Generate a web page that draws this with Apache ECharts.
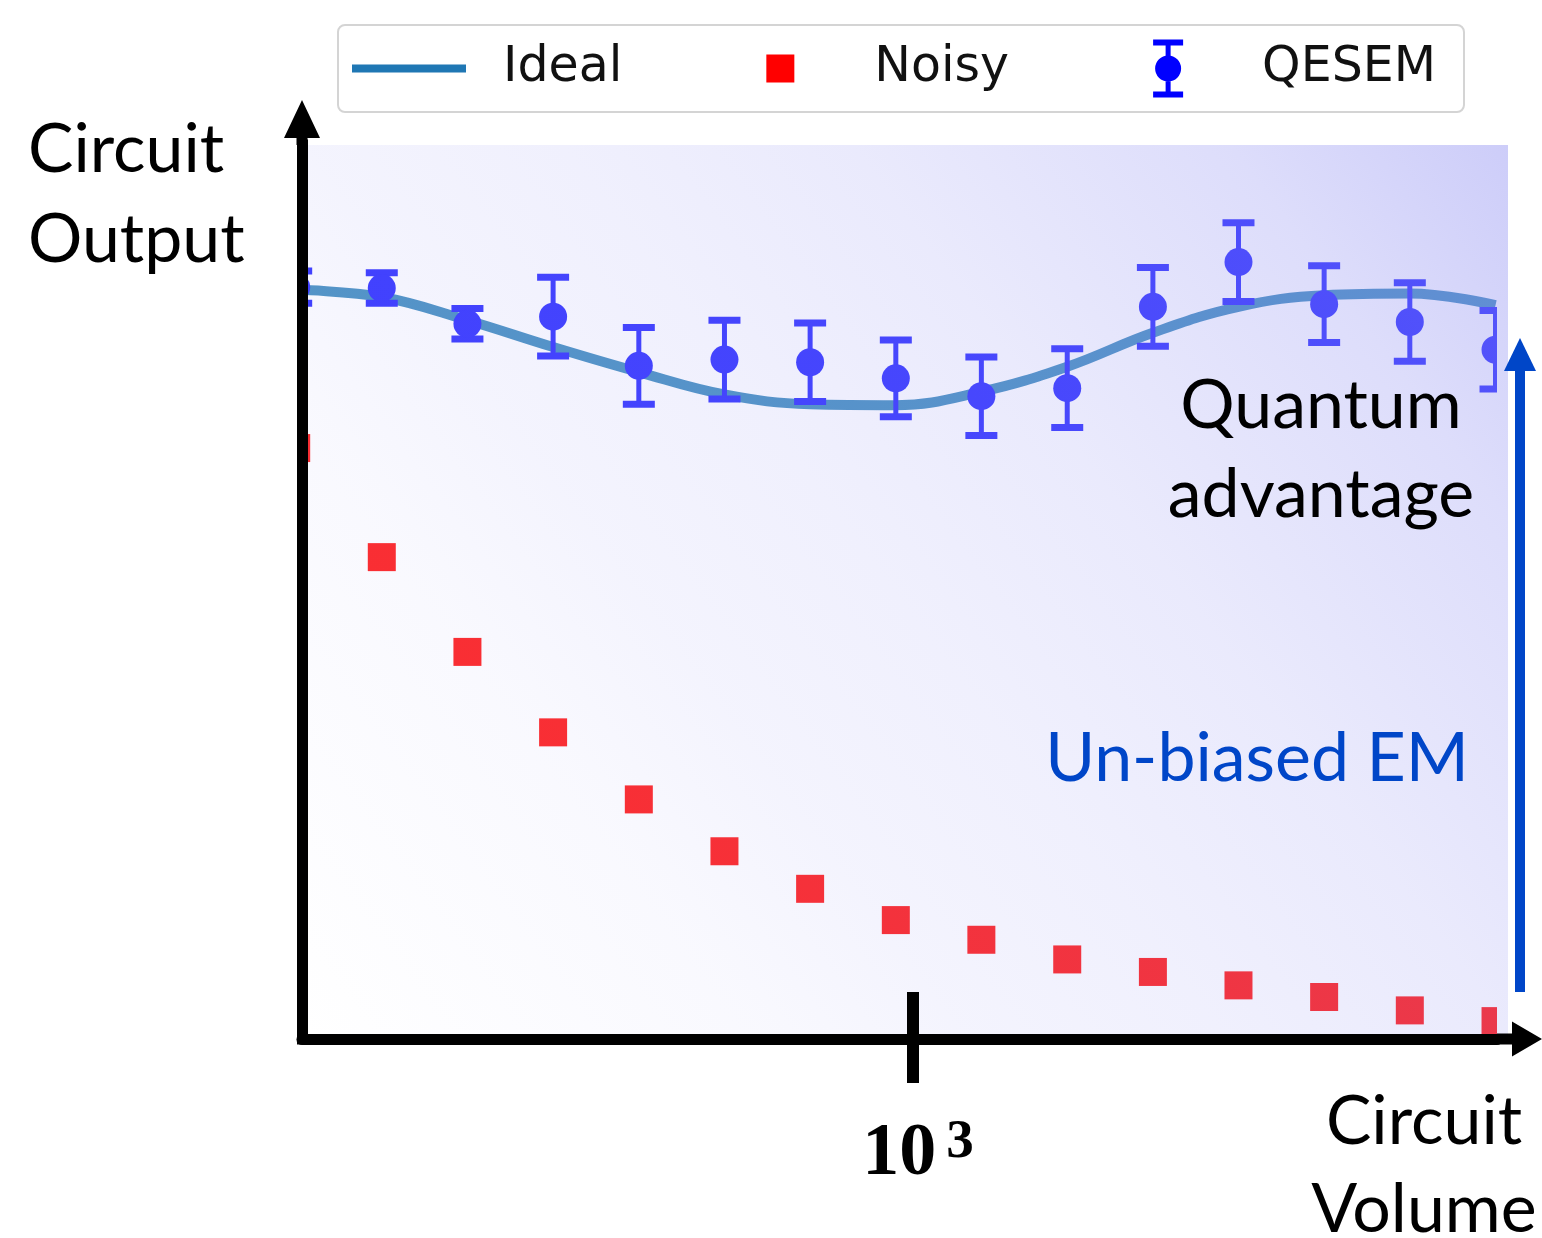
<!DOCTYPE html>
<html>
<head>
<meta charset="utf-8">
<script src="https://cdn.jsdelivr.net/npm/echarts@6/dist/echarts.min.js"></script>
<style>
  html, body { margin: 0; padding: 0; background: #fff; }
  #chart { width: 1542px; height: 1238px; }
</style>
</head>
<body>
<div id="chart"></div>
<script>
// circuit volume of each sample (log x axis)
const volumes = [190.6, 239.9, 302.0, 380.2, 478.7, 602.6, 758.6, 955.1, 1202, 1514, 1906, 2399, 3020, 3802, 4787];
// circuit output
const idealOutput = [0.838, 0.830, 0.804, 0.774, 0.746, 0.721, 0.710, 0.709, 0.724, 0.752, 0.790, 0.819, 0.832, 0.834, 0.821];
const noisyOutput = [0.661, 0.539, 0.433, 0.343, 0.268, 0.210, 0.168, 0.133, 0.111, 0.089, 0.075, 0.060, 0.047, 0.032, 0.020];
const qesemOutput = [0.841, 0.840, 0.800, 0.808, 0.753, 0.760, 0.757, 0.739, 0.719, 0.728, 0.819, 0.869, 0.822, 0.802, 0.771];
const qesemError = [0.018, 0.017, 0.017, 0.044, 0.043, 0.044, 0.044, 0.043, 0.044, 0.044, 0.044, 0.044, 0.043, 0.044, 0.044];
const xTicks = [1000];

const myChart = echarts.init(document.getElementById('chart'));

const GRID = { left: 302, top: 145, right: 45, bottom: 199 };
const TEXT_FONT = 'Lato';

// legend icons (degenerate segments pad the box to the item height)
const lineIcon = 'path://M0,25H114V33H0Z M57,0L57,0.01 M57,58L57,57.99';
const squareIcon = 'path://M0,15H28V43H0Z M14,0L14,0.01 M14,58L14,57.99';
const errIcon = 'path://M0,0H30V6H0Z M12.5,6H17.5V52H12.5Z M0,52H30V58H0Z M2,29A13,13,0,1,1,28,29A13,13,0,1,1,2,29Z';
// axis arrows with a short stem so they join the thick axis line
const xArrow = 'path://M17.5,0L35,30L23,30L23,45L12,45L12,30L0,30Z';
const yArrow = 'path://M18,0L36,38L23.5,38L23.5,45L12.5,45L12.5,38L0,38Z';

const squareItem = (params, api) => {
  const c = api.coord([api.value(0), api.value(1)]);
  return {
    type: 'rect',
    shape: { x: c[0] - 14, y: c[1] - 14, width: 28, height: 28 },
    style: { fill: '#ff2a2a' }
  };
};

const errorBarItem = (params, api) => {
  const x = api.value(0), y = api.value(1), e = api.value(2);
  const c = api.coord([x, y]);
  const hi = api.coord([x, y + e]);
  const lo = api.coord([x, y - e]);
  const fill = '#3c3cff';
  return {
    type: 'group',
    children: [
      { type: 'rect', shape: { x: c[0] - 2.5, y: hi[1], width: 5, height: lo[1] - hi[1] }, style: { fill } },
      { type: 'rect', shape: { x: c[0] - 16, y: hi[1] - 3.5, width: 32, height: 7 }, style: { fill } },
      { type: 'rect', shape: { x: c[0] - 16, y: lo[1] - 3.5, width: 32, height: 7 }, style: { fill } },
      { type: 'circle', shape: { cx: c[0], cy: c[1], r: 14 }, style: { fill } }
    ]
  };
};

const baseX = {
  type: 'log',
  logBase: 10,
  min: 193.6,
  max: 4806,
  position: 'bottom',
  splitLine: { show: false },
  minorTick: { show: false },
  z: 20
};

const option = {
  animation: false,
  backgroundColor: '#fff',
  grid: { ...GRID, outerBoundsMode: 'none', containLabel: false },
  legend: {
    left: 338,
    top: 25,
    orient: 'horizontal',
    selectedMode: false,
    itemWidth: 114,
    itemHeight: 58,
    itemGap: 144,
    padding: [14.5, 28, 14.5, 14],
    backgroundColor: '#fff',
    borderColor: '#d4d4d4',
    borderWidth: 2,
    borderRadius: 7,
    textStyle: { fontFamily: 'DejaVu Sans', fontSize: 49, color: '#111', padding: [0, 0, 0, 32] },
    data: [
      { name: 'Ideal', icon: lineIcon, itemStyle: { color: '#1f77b4', opacity: 1 } },
      { name: 'Noisy', icon: squareIcon, itemStyle: { color: '#ff0000', opacity: 1 } },
      { name: 'QESEM', icon: errIcon, itemStyle: { color: '#0000ff', opacity: 1 } }
    ]
  },
  xAxis: [
    {
      ...baseX,
      axisLine: {
        show: true,
        onZero: false,
        symbol: ['none', xArrow],
        symbolSize: [35, 45],
        symbolOffset: [0, 22.5],
        lineStyle: { color: '#000', width: 11 }
      },
      axisTick: { show: false },
      axisLabel: {
        show: true,
        customValues: xTicks,
        margin: 76,
        formatter: () => '{b|10}{s|3}',
        rich: {
          b: { fontFamily: 'Liberation Serif', fontWeight: 'bold', fontSize: 74, lineHeight: 80, color: '#000', padding: [0, 0, 0, 10] },
          s: { fontFamily: 'Liberation Serif', fontWeight: 'bold', fontSize: 55, lineHeight: 44, color: '#000', verticalAlign: 'top', padding: [0, 0, 0, 10] }
        }
      }
    },
    {
      ...baseX,
      offset: -47,
      axisLine: { show: false, onZero: false },
      axisTick: {
        show: true,
        customValues: xTicks,
        inside: false,
        length: 91,
        lineStyle: { color: '#000', width: 12 }
      },
      axisLabel: { show: false }
    }
  ],
  yAxis: {
    type: 'value',
    min: 0,
    max: 1,
    z: 20,
    axisLine: {
      show: true,
      onZero: false,
      symbol: ['none', yArrow],
      symbolSize: [36, 45],
      symbolOffset: [0, 22.5],
      lineStyle: { color: '#000', width: 11, cap: 'square' }
    },
    axisTick: { show: false },
    axisLabel: { show: false },
    splitLine: { show: false }
  },
  series: [
    {
      name: 'Ideal',
      type: 'line',
      smooth: 0.4,
      symbol: 'none',
      clip: true,
      lineStyle: { color: '#1f77b4', width: 10, opacity: 0.78 },
      itemStyle: { color: '#1f77b4' },
      data: volumes.map((v, i) => [v, idealOutput[i]]),
      z: 2
    },
    {
      name: 'Noisy',
      type: 'custom',
      clip: true,
      itemStyle: { color: '#ff2a2a' },
      encode: { x: 0, y: 1 },
      renderItem: squareItem,
      data: volumes.map((v, i) => [v, noisyOutput[i]]),
      z: 3
    },
    {
      name: 'QESEM',
      type: 'custom',
      clip: true,
      itemStyle: { color: '#3c3cff' },
      encode: { x: 0, y: 1 },
      renderItem: errorBarItem,
      data: volumes.map((v, i) => [v, qesemOutput[i], qesemError[i]]),
      z: 4
    }
  ],
  graphic: [
    {
      // lavender shading over the plot region
      type: 'rect',
      x: GRID.left,
      y: GRID.top,
      z: 10,
      silent: true,
      shape: { x: 0, y: 0, width: 1206, height: 894 },
      style: {
        fill: {
          type: 'linear', x: 0, y: 1, x2: 1, y2: 0,
          colorStops: [
            { offset: 0, color: 'rgba(130,130,240,0)' },
            { offset: 0.25, color: 'rgba(130,130,240,0.05)' },
            { offset: 0.36, color: 'rgba(130,130,240,0.09)' },
            { offset: 0.5, color: 'rgba(130,130,240,0.12)' },
            { offset: 0.65, color: 'rgba(130,130,240,0.17)' },
            { offset: 0.85, color: 'rgba(130,130,240,0.27)' },
            { offset: 1, color: 'rgba(130,130,240,0.40)' }
          ]
        }
      }
    },
    {
      type: 'text', x: 28, y: 105, z: 100,
      style: { text: 'Circuit\nOutput', fontFamily: TEXT_FONT, fontSize: 68, lineHeight: 90, fill: '#000', align: 'left', textAlign: 'left', verticalAlign: 'top', textVerticalAlign: 'top' }
    },
    {
      type: 'text', x: 1321, y: 362, z: 100,
      style: { text: 'Quantum\nadvantage', fontFamily: TEXT_FONT, fontSize: 68, lineHeight: 89, fill: '#000', align: 'center', textAlign: 'center', verticalAlign: 'top', textVerticalAlign: 'top' }
    },
    {
      type: 'text', x: 1257, y: 759, z: 100,
      style: { text: 'Un-biased EM', fontFamily: TEXT_FONT, fontSize: 68, fill: '#0046c8', align: 'center', textAlign: 'center', verticalAlign: 'middle', textVerticalAlign: 'middle' }
    },
    {
      type: 'text', x: 1424, y: 1078, z: 100,
      style: { text: 'Circuit\nVolume', fontFamily: TEXT_FONT, fontSize: 68, lineHeight: 88, fill: '#000', align: 'center', textAlign: 'center', verticalAlign: 'top', textVerticalAlign: 'top' }
    },
    {
      type: 'line', z: 100, silent: true,
      shape: { x1: 1520, y1: 992, x2: 1520, y2: 366 },
      style: { stroke: '#0046c8', lineWidth: 10 }
    },
    {
      type: 'polygon', z: 100, silent: true,
      shape: { points: [[1520, 338], [1536, 371], [1504, 371]] },
      style: { fill: '#0046c8' }
    }
  ]
};

myChart.setOption(option);
</script>
</body>
</html>
